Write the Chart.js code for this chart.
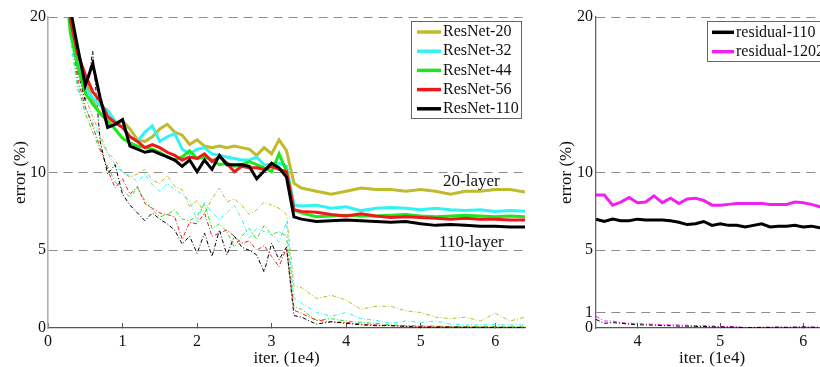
<!DOCTYPE html>
<html>
<head>
<meta charset="utf-8">
<script src="https://cdn.jsdelivr.net/npm/chart.js@4.4.1/dist/chart.umd.min.js"></script>
<style>
  html, body { margin: 0; padding: 0; background: #fff; overflow: hidden; }
  #wrap { position: relative; width: 820px; height: 367px; overflow: hidden; }
  canvas { position: absolute; top: 0; }
  #left { left: 0; }
  #right { left: 540px; }
</style>
</head>
<body>
<div id="wrap">
  <canvas id="left" width="545" height="367"></canvas>
  <canvas id="right" width="300" height="367"></canvas>
</div>
<script>
// x positions (1e4 iterations), left panel
const iters = [0.2, 0.3, 0.4, 0.5, 0.6, 0.7, 0.8, 0.9, 1.0, 1.1, 1.2, 1.3, 1.4, 1.5, 1.6, 1.7, 1.8, 1.9, 2.0, 2.1, 2.2, 2.3, 2.4, 2.5, 2.6, 2.7, 2.8, 2.9, 3.0, 3.1, 3.2, 3.3, 3.4,
  3.6, 3.8, 4.0, 4.2, 4.4, 4.6, 4.8, 5.0, 5.2, 5.4, 5.6, 5.8, 6.0, 6.2, 6.4];

// test error (%), bold lines
const test20 = [24, 20.2, 17.8, 16.0, 14.6, 13.8, 13.4, 13.2, 13.3, 12.8, 12.1, 12.0, 12.3, 12.8, 13.1, 12.6, 12.4, 11.8, 12.1, 11.7, 11.6, 11.7, 11.6, 11.7, 11.6, 11.5, 11.1, 11.6, 11.2, 12.1, 11.4, 9.3, 9.0,
  8.8, 8.6, 8.8, 9.0, 8.9, 8.9, 8.8, 8.9, 8.8, 8.6, 8.8, 8.8, 8.9, 8.9, 8.75];
const test32 = [24, 19.6, 17.0, 15.4, 14.8, 14.3, 14.0, 13.3, 12.9, 12.3, 12.0, 12.6, 13.0, 12.0, 12.3, 12.5, 11.5, 11.2, 11.5, 11.6, 11.2, 11.1, 11.0, 10.9, 10.8, 10.8, 11.0, 10.5, 10.5, 10.6, 10.4, 7.9, 7.85,
  7.9, 7.7, 7.8, 7.55, 7.7, 7.75, 7.7, 7.6, 7.7, 7.6, 7.55, 7.6, 7.5, 7.55, 7.5];
const test44 = [24, 19.0, 16.8, 15.1, 14.4, 13.8, 13.3, 12.8, 12.2, 11.9, 11.7, 11.6, 11.5, 11.3, 11.0, 10.8, 11.0, 11.4, 10.9, 11.0, 10.8, 10.5, 10.6, 10.4, 10.5, 10.7, 10.5, 10.3, 10.05, 11.2, 10.1, 7.6, 7.4,
  7.15, 7.2, 7.25, 7.2, 7.2, 7.25, 7.3, 7.2, 7.15, 7.2, 7.25, 7.2, 7.15, 7.2, 7.15];
const test56 = [24, 19.8, 17.6, 16.3, 15.2, 14.6, 13.6, 13.2, 12.9, 12.3, 12.0, 11.6, 11.8, 11.6, 11.3, 11.1, 10.8, 11.0, 10.9, 11.2, 10.7, 11.0, 10.6, 10.05, 10.4, 10.3, 10.3, 10.2, 10.4, 10.2, 10.05, 7.6, 7.5,
  7.45, 7.3, 7.2, 7.35, 7.2, 7.1, 7.15, 7.1, 7.05, 7.0, 7.05, 7.0, 7.0, 6.95, 6.95];
const test110 = [24, 20.5, 18.0, 15.6, 17.0, 14.8, 12.9, 13.1, 13.4, 11.7, 11.5, 11.3, 11.4, 11.2, 11.0, 10.8, 10.4, 10.8, 10.05, 10.8, 10.2, 11.1, 10.5, 10.5, 10.5, 10.4, 9.6, 10.1, 10.6, 10.3, 9.7, 7.15, 7.0,
  6.85, 6.9, 6.95, 6.9, 6.85, 6.8, 6.85, 6.7, 6.6, 6.65, 6.6, 6.55, 6.55, 6.5, 6.5];

// training error (%), thin dashed lines
const train20 = [24, 19.5, 16.5, 14.8, 13.6, 12.4, 11.3, 10.8, 10.0, 9.7, 9.9, 10.2, 9.5, 9.3, 9.8, 9.1, 8.9, 7.8, 8.2, 7.4, 8.3, 9.0, 8.1, 8.3, 7.9, 7.3, 7.6, 8.1, 7.9, 7.7, 7.3, 2.7, 2.6,
  1.9, 2.1, 1.8, 1.2, 1.4, 1.4, 1.1, 1.0, 0.7, 0.6, 0.7, 0.45, 0.95, 0.45, 0.7];
const train32 = [24, 18.5, 15.3, 14.2, 13.2, 12.2, 11.2, 10.5, 10.0, 9.8, 9.4, 9.9, 9.2, 8.8, 9.3, 8.9, 8.6, 8.2, 6.9, 8.1, 7.4, 7.0, 7.4, 7.9, 7.0, 5.8, 6.4, 6.2, 6.0, 5.55, 6.8, 1.9, 1.6,
  1.0, 0.75, 1.0, 0.6, 0.5, 0.3, 0.45, 0.35, 0.45, 0.25, 0.2, 0.2, 0.22, 0.2, 0.2];
const train44 = [24, 19.2, 15.6, 13.8, 12.6, 11.4, 10.4, 9.4, 8.9, 8.4, 9.0, 8.2, 7.6, 7.15, 7.3, 7.6, 7.0, 6.9, 7.2, 8.0, 6.4, 6.7, 6.2, 5.2, 5.9, 6.4, 5.7, 6.6, 6.0, 6.2, 5.9, 1.4, 1.2,
  0.5, 0.6, 0.45, 0.36, 0.3, 0.2, 0.15, 0.15, 0.12, 0.1, 0.1, 0.1, 0.08, 0.08, 0.08];
const train56 = [24, 19.5, 16.0, 14.2, 13.0, 11.6, 10.2, 9.0, 9.6, 8.6, 9.1, 8.0, 7.7, 7.4, 7.3, 7.15, 5.7, 6.8, 6.7, 7.4, 5.9, 6.1, 6.3, 5.9, 5.45, 5.6, 5.0, 5.3, 4.6, 3.95, 5.15, 1.15, 0.94,
  0.5, 0.4, 0.36, 0.25, 0.2, 0.15, 0.12, 0.1, 0.1, 0.08, 0.07, 0.06, 0.06, 0.05, 0.05];
const train110 = [24, 20.0, 16.5, 14.6, 17.8, 12.0, 9.9, 10.5, 8.6, 7.9, 7.4, 6.9, 7.4, 7.0, 6.7, 6.3, 5.4, 5.9, 4.8, 6.1, 4.6, 6.3, 4.7, 5.9, 5.2, 5.0, 4.7, 3.6, 5.45, 4.4, 5.2, 0.8, 0.7,
  0.25, 0.4, 0.3, 0.2, 0.15, 0.15, 0.1, 0.05, 0.05, 0.05, 0.04, 0.03, 0.03, 0.03, 0.03];

// right panel
const itersRight = [3.5, 3.6, 3.7, 3.8, 3.9, 4.0, 4.1, 4.2, 4.3, 4.4, 4.5, 4.6, 4.7, 4.8, 4.9, 5.0, 5.1, 5.2, 5.3, 5.4, 5.5, 5.6, 5.7, 5.8, 5.9, 6.0, 6.1, 6.2, 6.3];
const res110Test = [7.0, 6.85, 7.0, 6.9, 6.9, 7.0, 6.95, 6.95, 6.95, 6.9, 6.8, 6.65, 6.7, 6.85, 6.6, 6.7, 6.6, 6.6, 6.5, 6.6, 6.7, 6.5, 6.55, 6.55, 6.6, 6.5, 6.55, 6.45, 6.4];
const res1202Test = [8.55, 8.55, 7.9, 8.1, 8.4, 8.06, 8.1, 8.5, 8.06, 8.35, 8.0, 8.3, 8.35, 8.2, 7.9, 7.9, 7.95, 8.0, 8.0, 8.0, 8.0, 7.95, 7.95, 7.95, 8.1, 8.05, 7.95, 7.8, 7.7];
const res110Train = [0.55, 0.3, 0.35, 0.3, 0.25, 0.2, 0.2, 0.18, 0.15, 0.15, 0.12, 0.12, 0.1, 0.1, 0.08, 0.06, 0.06, 0.05, 0.02, 0.03, 0.04, 0.04, 0.05, 0.04, 0.05, 0.06, 0.05, 0.04, 0.04];
const res1202Train = [0.75, 0.45, 0.45, 0.35, 0.3, 0.3, 0.25, 0.25, 0.22, 0.2, 0.2, 0.18, 0.15, 0.15, 0.12, 0.1, 0.1, 0.08, 0.02, 0.03, 0.05, 0.05, 0.06, 0.05, 0.06, 0.08, 0.06, 0.05, 0.05];

const leftYTicks = [0, 5, 10, 20];
const rightYTicks = [0, 1, 5, 10, 20];
const leftXTicks = [0, 1, 2, 3, 4, 5, 6];
const rightXTicks = [4, 5, 6];

const SERIF = '"Liberation Serif", "DejaVu Serif", serif';
const colors = {
  r20: '#bfbb2a',
  r32: '#33f2f2',
  r44: '#1ee61e',
  r56: '#ee1a1a',
  r110: '#000000',
  r1202: '#f020f0'
};

function pts(xs, ys) {
  return ys.map((y, i) => ({ x: xs[i], y }));
}

function solid(label, xs, ys, color, order, rank) {
  return { label, data: pts(xs, ys), borderColor: color, borderWidth: 3, pointRadius: 0, order, legendRank: rank };
}

function dashed(label, xs, ys, color, order) {
  return { label, data: pts(xs, ys), borderColor: color, borderWidth: 1, borderDash: [4, 2, 1, 2], pointRadius: 0, order };
}

// legend drawn as a framed box inside the plot, like the original figure
const boxLegend = {
  id: 'boxLegend',
  afterDatasetsDraw(chart, args, opts) {
    if (!opts || !opts.display) return;
    const ctx = chart.ctx;
    const items = chart.data.datasets.filter((d) => d.legendRank !== undefined)
      .sort((a, b) => a.legendRank - b.legendRank);
    ctx.save();
    ctx.fillStyle = '#fff';
    ctx.fillRect(opts.x, opts.y, opts.w, opts.h);
    ctx.strokeStyle = '#666';
    ctx.lineWidth = 1;
    ctx.strokeRect(opts.x + 0.5, opts.y + 0.5, opts.w, opts.h);
    ctx.font = '16px ' + SERIF;
    ctx.textBaseline = 'middle';
    items.forEach((d, i) => {
      const cy = opts.y + opts.first + i * opts.rowH;
      ctx.strokeStyle = d.borderColor;
      ctx.lineWidth = 3.5;
      ctx.beginPath();
      ctx.moveTo(opts.x + opts.lineStart, cy);
      ctx.lineTo(opts.x + opts.lineEnd, cy);
      ctx.stroke();
      ctx.fillStyle = '#111';
      ctx.fillText(d.label, opts.x + opts.lineEnd + 2, cy);
    });
    ctx.restore();
  }
};

const notes = {
  id: 'notes',
  afterDatasetsDraw(chart, args, opts) {
    if (!opts || !opts.items) return;
    const ctx = chart.ctx;
    ctx.save();
    ctx.font = '17px ' + SERIF;
    ctx.fillStyle = '#111';
    ctx.textAlign = 'center';
    ctx.textBaseline = 'middle';
    opts.items.forEach((n) => {
      ctx.fillText(n.text, chart.scales.x.getPixelForValue(n.x), chart.scales.y.getPixelForValue(n.y));
    });
    ctx.restore();
  }
};

function axes(cfg) {
  return {
    x: {
      type: 'linear',
      min: cfg.xMin,
      max: cfg.xMax,
      afterBuildTicks(scale) { scale.ticks = cfg.xTicks.map((v) => ({ value: v })); },
      afterFit(scale) { scale.height = cfg.xHeight; },
      grid: { drawOnChartArea: false, drawTicks: true, tickLength: -5, color: '#555', lineWidth: 1 },
      border: { display: true, color: '#555', width: 1.3 },
      ticks: { color: '#111', font: { family: SERIF, size: 16 }, padding: 9, maxRotation: 0 },
      title: { display: true, text: 'iter. (1e4)', color: '#111', font: { family: SERIF, size: 17, lineHeight: 1 }, padding: { top: 0, bottom: 0 } }
    },
    y: {
      type: 'linear',
      min: 0,
      max: 20,
      afterBuildTicks(scale) { scale.ticks = cfg.yTicks.map((v) => ({ value: v })); },
      afterFit(scale) { scale.width = cfg.yWidth; },
      grid: {
        drawTicks: false,
        lineWidth: 1,
        color: (c) => (c.tick && c.tick.value === 0 ? 'rgba(0,0,0,0)' : '#8c8c8c')
      },
      border: { display: true, color: cfg.yAxisColor, width: cfg.yAxisWidth, dash: [9, 6] },
      ticks: { color: '#111', font: { family: SERIF, size: 16 }, padding: cfg.yTickPad },
      title: { display: true, text: 'error (%)', color: '#111', font: { family: SERIF, size: 17 }, padding: { top: cfg.yTitlePad, bottom: 0 } }
    }
  };
}

const leftChart = new Chart(document.getElementById('left'), {
  type: 'line',
  data: {
    datasets: [
      solid('ResNet-110', iters, test110, colors.r110, 0, 4),
      solid('ResNet-56', iters, test56, colors.r56, 1, 3),
      solid('ResNet-44', iters, test44, colors.r44, 2, 2),
      solid('ResNet-32', iters, test32, colors.r32, 3, 1),
      solid('ResNet-20', iters, test20, colors.r20, 4, 0),
      dashed('ResNet-110 train', iters, train110, colors.r110, 5),
      dashed('ResNet-56 train', iters, train56, colors.r56, 6),
      dashed('ResNet-44 train', iters, train44, colors.r44, 7),
      dashed('ResNet-32 train', iters, train32, colors.r32, 8),
      dashed('ResNet-20 train', iters, train20, colors.r20, 9)
    ]
  },
  options: {
    responsive: false,
    animation: false,
    devicePixelRatio: 1,
    layout: { padding: { top: 17, right: 20, bottom: 0, left: 0 } },
    elements: { line: { tension: 0 } },
    scales: axes({ xMin: 0, xMax: 6.4, xTicks: leftXTicks, yTicks: leftYTicks, xHeight: 39, yWidth: 48, yAxisColor: '#b0b0b0', yAxisWidth: 1.6, yTickPad: 2, yTitlePad: 10 }),
    plugins: {
      legend: { display: false },
      tooltip: { enabled: false },
      boxLegend: { display: true, x: 411, y: 21, w: 110, h: 97, first: 11, rowH: 19.2, lineStart: 6, lineEnd: 30 },
      notes: { items: [{ text: '20-layer', x: 5.68, y: 9.4 }, { text: '110-layer', x: 5.68, y: 5.47 }] }
    }
  },
  plugins: [boxLegend, notes]
});

const rightChart = new Chart(document.getElementById('right'), {
  type: 'line',
  data: {
    datasets: [
      solid('residual-110', itersRight, res110Test, colors.r110, 0, 0),
      solid('residual-1202', itersRight, res1202Test, colors.r1202, 1, 1),
      dashed('residual-110 train', itersRight, res110Train, colors.r110, 2),
      dashed('residual-1202 train', itersRight, res1202Train, colors.r1202, 3)
    ]
  },
  options: {
    responsive: false,
    animation: false,
    devicePixelRatio: 1,
    layout: { padding: { top: 17, right: 12, bottom: 0, left: 0 } },
    elements: { line: { tension: 0 } },
    scales: axes({ xMin: 3.5, xMax: 6.3, xTicks: rightXTicks, yTicks: rightYTicks, xHeight: 39, yWidth: 56, yAxisColor: '#666', yAxisWidth: 1.3, yTickPad: 3, yTitlePad: 16 }),
    plugins: {
      legend: { display: false },
      tooltip: { enabled: false },
      boxLegend: { display: true, x: 167, y: 21, w: 130, h: 40, first: 11.3, rowH: 19.4, lineStart: 5, lineEnd: 27 }
    }
  },
  plugins: [boxLegend]
});
</script>
</body>
</html>
